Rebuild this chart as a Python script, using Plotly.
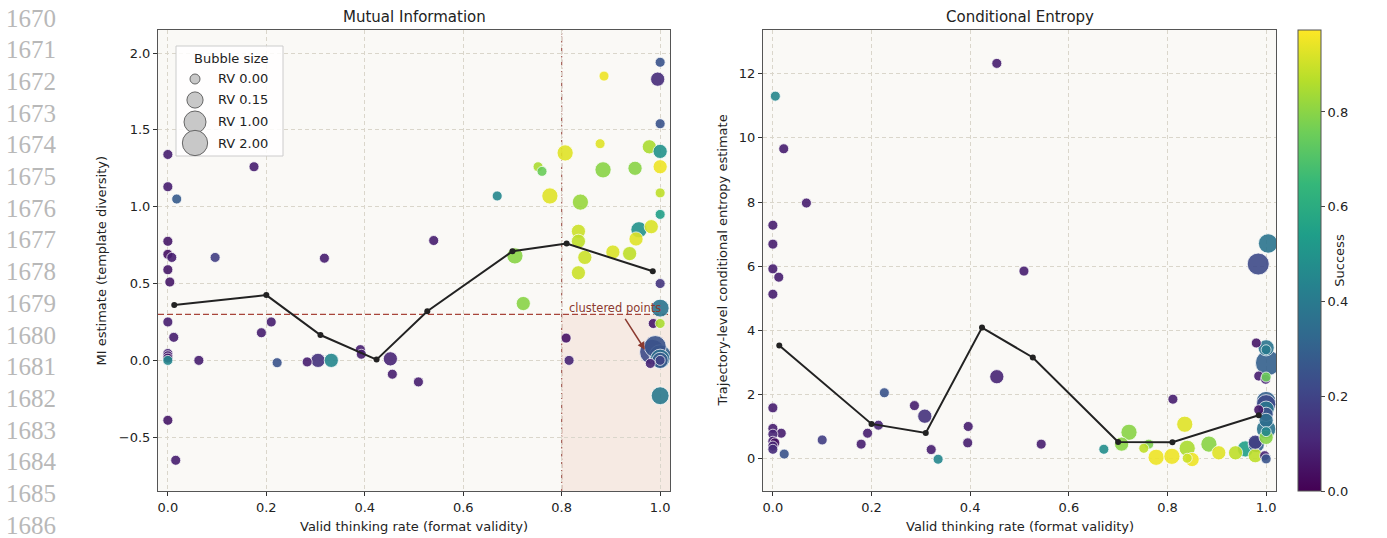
import plotly.graph_objects as go

W, H = 1387, 538

# ---------------- Data: Mutual Information panel ----------------
mi_x = [0.0, 0.0, 0.018, 0.0, 0.0, 0.008, 0.0, 0.004, 0.0, 0.012, 0.0, 0.0, 0.0, 0.0, 0.0, 0.016,
        0.063, 0.096, 0.175, 0.318, 0.19, 0.21, 0.222, 0.283, 0.305, 0.332, 0.391, 0.393, 0.452, 0.456,
        0.509, 0.54,
        1.0, 0.995, 0.886, 1.0, 0.878, 0.978, 1.0, 0.807, 1.0, 0.752, 0.76, 0.884, 0.949, 0.669,
        0.776, 1.0, 0.838, 1.0, 0.982, 0.957, 0.951, 0.834, 0.834, 0.904, 0.938, 0.847, 0.705, 0.834,
        1.0, 0.722, 1.0, 0.986, 1.0, 0.809, 0.815, 0.984, 1.0, 1.0, 1.0, 1.0, 0.99, 1.0, 0.98]
mi_y = [1.34, 1.13, 1.05, 0.775, 0.69, 0.67, 0.59, 0.51, 0.25, 0.15, 0.045, 0.03, 0.015, 0.0, -0.39, -0.65,
        0.0, 0.67, 1.26, 0.665, 0.18, 0.25, -0.015, -0.01, 0.0, 0.0, 0.07, 0.04, 0.01, -0.09,
        -0.14, 0.78,
        1.94, 1.83, 1.85, 1.54, 1.41, 1.39, 1.36, 1.35, 1.26, 1.26, 1.23, 1.24, 1.25, 1.07,
        1.07, 1.09, 1.03, 0.95, 0.87, 0.85, 0.79, 0.84, 0.775, 0.705, 0.695, 0.67, 0.68, 0.57,
        0.5, 0.37, 0.34, 0.24, 0.24, 0.145, 0.0, 0.055, 0.03, 0.01, 0.0, 0.0, 0.09, -0.23, -0.02]
mi_success = [0.08, 0.08, 0.28, 0.06, 0.04, 0.08, 0.06, 0.06, 0.08, 0.08, 0.1, 0.08, 0.06, 0.45, 0.06, 0.08,
              0.08, 0.18, 0.08, 0.08, 0.08, 0.08, 0.25, 0.08, 0.14, 0.45, 0.08, 0.08, 0.1, 0.08,
              0.08, 0.08,
              0.25, 0.12, 0.95, 0.25, 0.93, 0.85, 0.5, 0.93, 0.95, 0.85, 0.75, 0.8, 0.8, 0.45,
              0.93, 0.88, 0.82, 0.55, 0.92, 0.5, 0.93, 0.9, 0.88, 0.92, 0.88, 0.9, 0.8, 0.9,
              0.15, 0.8, 0.38, 0.06, 0.85, 0.05, 0.1, 0.22, 0.3, 0.35, 0.28, 0.2, 0.25, 0.4, 0.1]
mi_rv = [0, 0, 0, 0, 0, 0, 0, 0, 0, 0, 0, 0, 0, 0, 0, 0,
         0, 0, 0, 0, 0, 0, 0, 0, 0.05, 0.05, 0, 0, 0.05, 0,
         0, 0,
         0, 0.05, 0, 0, 0, 0.05, 0.05, 0.15, 0.05, 0, 0, 0.15, 0.05, 0,
         0.15, 0, 0.15, 0, 0.05, 0.15, 0.05, 0.05, 0.05, 0.05, 0.05, 0.05, 0.15, 0.05,
         0, 0.05, 0.3, 0, 0, 0, 0, 2.0, 1.0, 0.5, 0.15, 0, 1.0, 0.3, 0]

# ---------------- Data: Conditional Entropy panel ----------------
ce_x = [0.005, 0.022, 0.068, 0.0, 0.0, 0.0, 0.012, 0.0, 0.0, 0.0, 0.017, 0.0, 0.0, 0.004, 0.0, 0.0, 0.023,
        0.1, 0.226, 0.179, 0.192, 0.214, 0.287, 0.308, 0.321, 0.335, 0.396, 0.395, 0.454, 0.454, 0.509, 0.544,
        0.671, 0.722, 0.707, 0.762, 0.752, 0.777, 0.809, 0.84, 0.84, 0.85, 0.835, 0.811, 0.884, 0.904,
        0.938, 0.958, 0.978, 0.978, 0.997, 1.0,
        1.004, 0.984, 0.98, 1.0, 1.0, 1.004, 0.985, 0.999, 1.0, 1.0, 1.0, 0.985, 1.0, 1.0, 1.0, 1.0,
        1.0, 1.0, 0.98]
ce_y = [11.3, 9.66, 7.97, 7.28, 6.69, 5.92, 5.66, 5.13, 1.59, 0.95, 0.8, 0.77, 0.55, 0.5, 0.4, 0.3, 0.15,
        0.59, 2.06, 0.46, 0.8, 1.05, 1.66, 1.33, 0.29, -0.01, 1.01, 0.5, 2.56, 12.32, 5.85, 0.46,
        0.3, 0.83, 0.46, 0.46, 0.33, 0.05, 0.08, 0.33, 0.02, -0.02, 1.08, 1.86, 0.46, 0.19,
        0.19, 0.31, 0.1, 0.52, 0.1, 0.0,
        6.71, 6.07, 3.61, 3.46, 3.4, 2.99, 2.58, 2.48, 2.55, 1.8, 1.7, 1.53, 1.55, 1.39, 1.2, 0.93,
        0.85, 0.67, 0.45]
ce_success = [0.45, 0.08, 0.08, 0.08, 0.08, 0.08, 0.08, 0.08, 0.08, 0.08, 0.08, 0.1, 0.08, 0.04, 0.1, 0.12, 0.25,
              0.18, 0.25, 0.08, 0.08, 0.1, 0.08, 0.14, 0.08, 0.45, 0.08, 0.08, 0.1, 0.08, 0.08, 0.08,
              0.48, 0.8, 0.8, 0.78, 0.88, 0.95, 0.95, 0.85, 0.9, 0.95, 0.93, 0.08, 0.8, 0.93,
              0.88, 0.55, 0.88, 0.18, 0.1, 0.25,
              0.38, 0.22, 0.06, 0.38, 0.4, 0.3, 0.08, 0.1, 0.75, 0.3, 0.22, 0.06, 0.38, 0.25, 0.35, 0.38,
              0.45, 0.8, 0.3]
ce_rv = [0, 0, 0, 0, 0, 0, 0, 0, 0, 0, 0, 0, 0, 0, 0, 0, 0,
         0, 0, 0, 0, 0, 0, 0.05, 0, 0, 0, 0, 0.05, 0, 0, 0,
         0, 0.15, 0.05, 0, 0, 0.15, 0.15, 0.15, 0, 0.05, 0.15, 0, 0.15, 0.05,
         0.05, 0.15, 0.05, 0.05, 0, 0,
         0.5, 1.0, 0, 0.15, 0, 2.0, 0, 0, 0, 0.5, 0.5, 0, 0.15, 0.05, 0.05, 0.5,
         0, 0.05, 0.15]

# ---------------- Binned means ----------------
bin_x = [0.013, 0.2, 0.31, 0.424, 0.527, 0.7, 0.81, 0.985]
mi_bin_mean = [0.36, 0.425, 0.165, 0.005, 0.32, 0.71, 0.76, 0.58]
ce_bin_mean = [3.53, 1.09, 0.81, 4.09, 3.16, 0.53, 0.52, 1.36]

legend_rv = [0.0, 0.15, 1.0, 2.0]
legend_labels = ["RV 0.00", "RV 0.15", "RV 1.00", "RV 2.00"]
cbar_ticks = [0.0, 0.2, 0.4, 0.6, 0.8]
line_numbers = list(range(1670, 1687))

MI_THRESH = 0.3
VALID_THRESH = 0.8


def size_of(rv):
    return 10 + 12 * (rv ** 0.35)


FONT = "DejaVu Sans"
TXT = "#222222"
fig = go.Figure()

for xs, ys, cs, rvs, xa, ya in [(mi_x, mi_y, mi_success, mi_rv, "x", "y"),
                                (ce_x, ce_y, ce_success, ce_rv, "x2", "y2")]:
    order = sorted(range(len(xs)), key=lambda i: -rvs[i])
    fig.add_trace(go.Scatter(
        x=[xs[i] for i in order], y=[ys[i] for i in order], mode="markers",
        xaxis=xa, yaxis=ya, showlegend=False,
        marker=dict(size=[size_of(rvs[i]) for i in order], color=[cs[i] for i in order],
                    coloraxis="coloraxis", opacity=0.9,
                    line=dict(color="white", width=0.8)),
    ))

for means, xa, ya in [(mi_bin_mean, "x", "y"), (ce_bin_mean, "x2", "y2")]:
    fig.add_trace(go.Scatter(
        x=bin_x, y=means, mode="lines+markers", xaxis=xa, yaxis=ya, showlegend=False,
        line=dict(color="#222222", width=2), marker=dict(color="#222222", size=6),
    ))

grid = dict(showgrid=True, gridcolor="#dad6cb", griddash="4px,3px", gridwidth=0.8,
            zeroline=False, showline=True, mirror=True, linecolor="#555555", linewidth=1,
            ticks="outside", ticklen=4, tickcolor="#333333",
            tickfont=dict(family=FONT, size=13, color=TXT))

xd1 = [158 / W, 670 / W]
xd2 = [763 / W, 1276 / W]
yd = [1 - 491 / H, 1 - 30 / H]

fig.update_layout(
    width=W, height=H, margin=dict(l=0, r=0, t=0, b=0),
    paper_bgcolor="white", plot_bgcolor="#faf9f6",
    font=dict(family=FONT, color=TXT),
    xaxis=dict(domain=xd1, range=[-0.02, 1.02], anchor="y",
               tickvals=[0, 0.2, 0.4, 0.6, 0.8, 1.0], tickformat=".1f", **grid),
    yaxis=dict(domain=yd, range=[-0.85, 2.15], anchor="x",
               tickvals=[-0.5, 0, 0.5, 1.0, 1.5, 2.0], tickformat=".1f", **grid),
    xaxis2=dict(domain=xd2, range=[-0.02, 1.02], anchor="y2",
                tickvals=[0, 0.2, 0.4, 0.6, 0.8, 1.0], tickformat=".1f", **grid),
    yaxis2=dict(domain=yd, range=[-1.0, 13.36], anchor="x2",
                tickvals=[0, 2, 4, 6, 8, 10, 12], **grid),
    coloraxis=dict(
        colorscale="Viridis", cmin=0, cmax=0.973,
        colorbar=dict(x=1298 / W, xanchor="left", y=1 - 491 / H, yanchor="bottom",
                      len=461 / H, lenmode="fraction", thickness=23, xpad=0, ypad=0,
                      outlinewidth=1, outlinecolor="#555555",
                      tickvals=cbar_ticks, tickformat=".1f", ticks="outside", ticklen=4,
                      tickfont=dict(family=FONT, size=13, color=TXT),
                      title=dict(text="Success", side="right",
                                 font=dict(family=FONT, size=13, color=TXT))),
    ),
)

shapes = [
    dict(type="rect", xref="x", yref="y", x0=VALID_THRESH, x1=1.02, y0=-0.85, y1=MI_THRESH,
         fillcolor="rgba(225,160,135,0.17)", line=dict(width=0), layer="below"),
    dict(type="line", xref="x", yref="y", x0=-0.02, x1=1.02, y0=MI_THRESH, y1=MI_THRESH,
         line=dict(color="#a8453a", width=1.3, dash="6px,3px"), layer="below"),
    dict(type="line", xref="x", yref="y", x0=VALID_THRESH, x1=VALID_THRESH, y0=-0.85, y1=2.15,
         line=dict(color="#9c5048", width=1.1, dash="6px,2px,1.5px,2px"), layer="below"),
    # legend box
    dict(type="rect", xref="paper", yref="paper", x0=176 / W, x1=283 / W,
         y0=1 - 156 / H, y1=1 - 46 / H, fillcolor="rgba(255,255,255,0.85)",
         line=dict(color="#cccccc", width=1), layer="above"),
]
leg_y = [79, 100, 122, 143]
for rv, py in zip(legend_rv, leg_y):
    r = size_of(rv) / 2
    shapes.append(dict(type="circle", xref="paper", yref="paper",
                       xsizemode="pixel", ysizemode="pixel",
                       xanchor=195 / W, yanchor=1 - py / H,
                       x0=-r, x1=r, y0=-r, y1=r,
                       fillcolor="#c8c8c8", line=dict(color="#666666", width=1), layer="above"))
fig.update_layout(shapes=shapes)


def note(text, px, py, size=13, xanchor="center", angle=0, family=FONT, color=TXT):
    return dict(text=text, xref="paper", yref="paper", x=px / W, y=1 - py / H,
                xanchor=xanchor, yanchor="middle", textangle=angle, showarrow=False,
                font=dict(family=family, size=size, color=color))


ann = [note("Bubble size", 231, 58)]
for lab, py in zip(legend_labels, leg_y):
    ann.append(note(lab, 216, py, xanchor="left"))
# clustered points annotation
ann.append(dict(text="", xref="x", yref="y", x=0.969, y=0.07, ax=0.927, ay=0.28,
                axref="x", ayref="y", showarrow=True, arrowhead=2, arrowsize=1,
                arrowwidth=1.5, arrowcolor="#8b3a30"))
ann.append(dict(text="clustered points", xref="x", yref="y", x=0.811, y=0.34, xanchor="left",
                yanchor="middle", showarrow=False, font=dict(family=FONT, size=11.5, color="#8b3a30")))
ann += [
    note("Mutual Information", 414, 17, size=15),
    note("Conditional Entropy", 1019.5, 17, size=15),
    note("Valid thinking rate (format validity)", 414, 526),
    note("Valid thinking rate (format validity)", 1019.5, 526),
    note("MI estimate (template diversity)", 101, 260.5, angle=-90),
    note("Trajectory-level conditional entropy estimate", 722, 260.5, angle=-90),
]
for i, n in enumerate(line_numbers):
    ann.append(note(str(n), 4, 18 + 31.7 * i, size=25, xanchor="left",
                    family="Liberation Serif", color="#b8b8b8"))
fig.update_layout(annotations=ann)

fig.write_html("out.html", config={"displayModeBar": False},
               post_script="document.body.style.margin='0';")
